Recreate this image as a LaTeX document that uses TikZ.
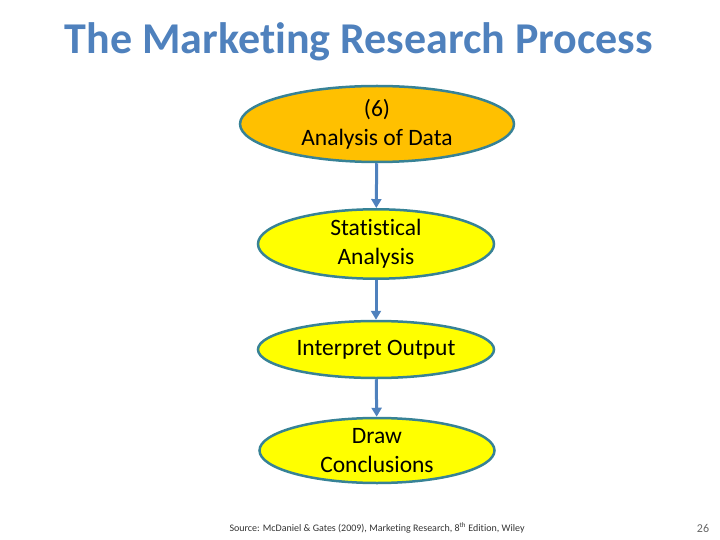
\documentclass[tikz,border=0pt]{standalone}
\usepackage{fontspec}
\setmainfont[Ligatures={NoCommon}]{Carlito}
\usetikzlibrary{shapes.geometric,arrows.meta}
\definecolor{titleblue}{RGB}{79,129,189}
\definecolor{arrowblue}{RGB}{79,129,189}
\definecolor{edge}{RGB}{55,130,150}
\definecolor{orangefill}{RGB}{255,192,0}
\definecolor{yellowfill}{RGB}{255,255,0}
\tikzset{
  stepell/.style={ellipse, draw=edge, line width=2.5pt, inner sep=0pt, align=center, font=\fontsize{23.5}{29}\selectfont},
  flow/.style={draw=arrowblue, line width=3pt, -{Triangle[length=9pt,width=10pt]}}
}
\begin{document}
\begin{tikzpicture}[x=1pt,y=-1pt]
\useasboundingbox (0,0) rectangle (720,540);
\node[font=\fontsize{44}{46}\selectfont\bfseries, text=titleblue] (title) at (359,42) {The Marketing Research Process};
\node[stepell, fill=orangefill, minimum width=274pt, minimum height=76pt] (a) at (377,124) {(6)\\Analysis of Data};
\node[stepell, fill=yellowfill, minimum width=236pt, minimum height=60pt] (b) at (376,244) {Statistical\\Analysis};
\node[stepell, fill=yellowfill, minimum width=236pt, minimum height=57pt] (c) at (376,349.5) {Interpret Output};
\node[stepell, fill=yellowfill, minimum width=235pt, minimum height=65pt] (d) at (377,450.5) {Draw\\Conclusions};
\draw[flow] (a) -- (b);
\draw[flow] (b) -- (c);
\draw[flow] (c) -- (d);
\node[font=\fontsize{10}{11}\selectfont, text=black!80, anchor=west] (src) at (226,528) {Source: McDaniel \& Gates (2009), Marketing Research, 8\textsuperscript{th} Edition, Wiley};
\node[font=\fontsize{12}{12}\selectfont, text=black!60] (pg) at (703,528) {26};
\end{tikzpicture}
\end{document}
